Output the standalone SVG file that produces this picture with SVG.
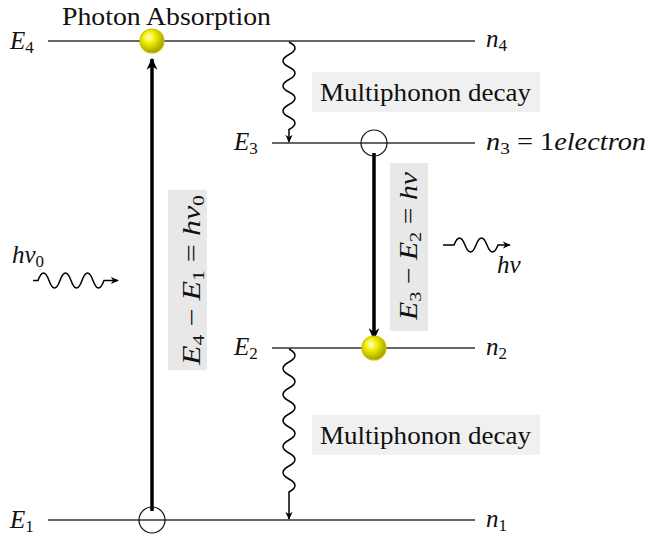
<svg xmlns="http://www.w3.org/2000/svg" width="650" height="536" viewBox="0 0 650 536">
<defs>
<marker id="ah" viewBox="0 0 10 10" refX="9" refY="5" markerWidth="8" markerHeight="8" orient="auto" markerUnits="userSpaceOnUse">
<path d="M0,0.5 L10,5 L0,9.5 L3,5 Z" fill="#000"/>
</marker>
<marker id="ahb" viewBox="0 0 10 10" refX="9" refY="5" markerWidth="12" markerHeight="12" orient="auto" markerUnits="userSpaceOnUse">
<path d="M0,0.5 L10,5 L0,9.5 L3,5 Z" fill="#000"/>
</marker>
<radialGradient id="ball" cx="0.38" cy="0.35" r="0.7">
<stop offset="0" stop-color="#ffffe0"/>
<stop offset="0.35" stop-color="#f2f000"/>
<stop offset="1" stop-color="#9a9600"/>
</radialGradient>
</defs>
<style>
.lvl{stroke:#333;stroke-width:1.3;fill:none}
.t{font-family:"Liberation Serif","DejaVu Serif",serif;font-size:25px;fill:#111}
.m{font-style:italic}
.s{font-size:17px;font-style:normal}
.wave{stroke:#000;stroke-width:1.5;fill:none}
.big{stroke:#000;stroke-width:3.5;fill:none}
.box1{fill:#f0f0f0}
.box2{fill:#e8e8e8}
.ball{fill:url(#ball);stroke:#c9c200;stroke-width:1.2}
.hole{fill:none;stroke:#111;stroke-width:1.2}
</style>

<g id="levels">
<line class="lvl" x1="48" y1="41" x2="475" y2="41"/>
<line class="lvl" x1="272" y1="143" x2="475" y2="143"/>
<line class="lvl" x1="272" y1="348" x2="475" y2="348"/>
<line class="lvl" x1="48" y1="520" x2="475" y2="520"/>
</g>

<g id="labels">
<text class="t" x="62" y="25" textLength="209" lengthAdjust="spacingAndGlyphs">Photon Absorption</text>
<text class="t" x="10" y="49"><tspan class="m">E</tspan><tspan class="s" dy="4">4</tspan></text>
<text class="t" x="10" y="528"><tspan class="m">E</tspan><tspan class="s" dy="4">1</tspan></text>
<text class="t" x="234" y="150"><tspan class="m">E</tspan><tspan class="s" dy="4">3</tspan></text>
<text class="t" x="234" y="355"><tspan class="m">E</tspan><tspan class="s" dy="4">2</tspan></text>
<text class="t" x="486" y="47"><tspan class="m">n</tspan><tspan class="s" dy="4">4</tspan></text>
<text class="t" x="486" y="150" textLength="160" lengthAdjust="spacingAndGlyphs"><tspan class="m">n</tspan><tspan class="s" dy="4">3</tspan><tspan dy="-4"> = 1</tspan><tspan class="m">electron</tspan></text>
<text class="t" x="486" y="355"><tspan class="m">n</tspan><tspan class="s" dy="4">2</tspan></text>
<text class="t" x="486" y="527"><tspan class="m">n</tspan><tspan class="s" dy="4">1</tspan></text>
<text class="t" x="12" y="263"><tspan class="m">hv</tspan><tspan class="s" dy="4">0</tspan></text>
<text class="t m" x="497" y="273">hv</text>
</g>

<g id="decay1">
<rect class="box1" x="312" y="72" width="228" height="40"/>
<text class="t" x="320" y="101" textLength="211" lengthAdjust="spacingAndGlyphs">Multiphonon decay</text>
</g>
<g id="decay2">
<rect class="box1" x="312" y="415" width="228" height="40"/>
<text class="t" x="320" y="444" textLength="211" lengthAdjust="spacingAndGlyphs">Multiphonon decay</text>
</g>

<g id="eq1">
<rect class="box2" x="168" y="190" width="39" height="180"/>
<text class="t" transform="translate(200,365) rotate(-90)" textLength="170" lengthAdjust="spacingAndGlyphs"><tspan class="m">E</tspan><tspan class="s" dy="4">4</tspan><tspan dy="-4"> − </tspan><tspan class="m">E</tspan><tspan class="s" dy="4">1</tspan><tspan dy="-4"> = </tspan><tspan class="m">hv</tspan><tspan class="s" dy="4">0</tspan></text>
</g>
<g id="eq2">
<rect class="box2" x="390" y="163" width="38" height="168"/>
<text class="t" transform="translate(417,320) rotate(-90)" textLength="148" lengthAdjust="spacingAndGlyphs"><tspan class="m">E</tspan><tspan class="s" dy="4">3</tspan><tspan dy="-4"> − </tspan><tspan class="m">E</tspan><tspan class="s" dy="4">2</tspan><tspan dy="-4"> = </tspan><tspan class="m">hv</tspan></text>
</g>

<g id="connectors">
<line class="big" x1="152" y1="511" x2="152" y2="59" marker-end="url(#ahb)"/>
<line class="big" x1="374" y1="153" x2="374" y2="339" marker-end="url(#ahb)"/>
<path class="wave" d="M289,42 q12,6 0,12.5 t0,12.5 t0,12.5 t0,12.5 t0,12.5 t0,12.5 t0,12.5 L289,142" marker-end="url(#ah)"/>
<path class="wave" d="M289,349 q12,6.5 0,13 t0,13 t0,13 t0,13 t0,13 t0,13 t0,13 t0,13 t0,13 t0,13 t0,13 L289,519" marker-end="url(#ah)"/>
<path class="wave" d="M33,280.5 L38,280.5 q5.5,-15 11,0 t11,0 t11,0 t11,0 t11,0 t11,0 L118,280.5" marker-end="url(#ah)"/>
<path class="wave" d="M443,245 L454,245 q5.5,-14 11,0 t11,0 t11,0 t11,0 L510,245" marker-end="url(#ah)"/>
</g>

<g id="electrons">
<circle class="ball" cx="152" cy="41" r="12"/>
<circle class="hole" cx="374" cy="143" r="13"/>
<circle class="ball" cx="374" cy="348" r="12"/>
<circle class="hole" cx="152" cy="520" r="13"/>
</g>
</svg>
